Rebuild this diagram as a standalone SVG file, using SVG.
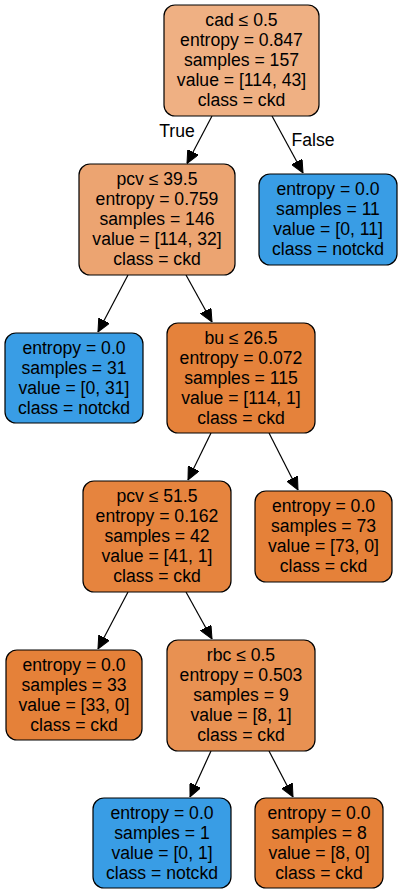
<svg xmlns="http://www.w3.org/2000/svg" width="401" height="895" viewBox="0 0 401 895">
<style>
.n rect{stroke:#000;stroke-width:1.2}
.n text{font-family:"Liberation Sans",Arial,sans-serif;font-size:17.6px;text-anchor:middle;fill:#000}
.e path{stroke:#000;stroke-width:1.2;fill:none;marker-end:url(#ah)}
.lbl{font-family:"Liberation Sans",Arial,sans-serif;font-size:17.6px;text-anchor:middle;fill:#000}
</style>
<defs>
<marker id="ah" viewBox="0 0 13 12" refX="13" refY="6" markerWidth="13" markerHeight="12" markerUnits="userSpaceOnUse" orient="auto">
<path d="M0,0 L13,6 L0,12 z" fill="#000" stroke="#000" stroke-width="1"/>
</marker>
</defs>
<rect width="401" height="895" fill="#fff"/>
<g id="edges" class="e">
<path d="M212,116 L187,163.5"/>
<path d="M272,116 L303,173"/>
<path d="M128,275 L98,332"/>
<path d="M186,275 L212,322"/>
<path d="M211,433 L188,480"/>
<path d="M269,433 L298,490"/>
<path d="M128,592 L98,649"/>
<path d="M186,592 L212,639"/>
<path d="M211,751 L190,797"/>
<path d="M269,751 L293,797"/>
</g>
<text class="lbl" x="177" y="136.5">True</text>
<text class="lbl" x="313" y="146">False</text>
<g id="node0" class="n">
<rect x="164" y="5" width="155" height="111" rx="11" fill="#efb083"/>
<text x="241.5" y="26">cad ≤ 0.5</text>
<text x="241.5" y="46">entropy = 0.847</text>
<text x="241.5" y="66">samples = 157</text>
<text x="241.5" y="86">value = [114, 43]</text>
<text x="241.5" y="106">class = ckd</text>
</g>
<g id="node1" class="n">
<rect x="79" y="164" width="156" height="111" rx="11" fill="#eca471"/>
<text x="157" y="185">pcv ≤ 39.5</text>
<text x="157" y="205">entropy = 0.759</text>
<text x="157" y="225">samples = 146</text>
<text x="157" y="245">value = [114, 32]</text>
<text x="157" y="265">class = ckd</text>
</g>
<g id="node2" class="n">
<rect x="5" y="333" width="138" height="90" rx="11" fill="#399de5"/>
<text x="74" y="353.5">entropy = 0.0</text>
<text x="74" y="373.5">samples = 31</text>
<text x="74" y="393.5">value = [0, 31]</text>
<text x="74" y="413.5">class = notckd</text>
</g>
<g id="node3" class="n">
<rect x="167" y="323" width="148" height="110" rx="11" fill="#e5823b"/>
<text x="241" y="343.5">bu ≤ 26.5</text>
<text x="241" y="363.5">entropy = 0.072</text>
<text x="241" y="383.5">samples = 115</text>
<text x="241" y="403.5">value = [114, 1]</text>
<text x="241" y="423.5">class = ckd</text>
</g>
<g id="node4" class="n">
<rect x="83" y="481" width="148" height="111" rx="11" fill="#e6843e"/>
<text x="157" y="502">pcv ≤ 51.5</text>
<text x="157" y="522">entropy = 0.162</text>
<text x="157" y="542">samples = 42</text>
<text x="157" y="562">value = [41, 1]</text>
<text x="157" y="582">class = ckd</text>
</g>
<g id="node5" class="n">
<rect x="6" y="650" width="136" height="90" rx="11" fill="#e58139"/>
<text x="74" y="670.5">entropy = 0.0</text>
<text x="74" y="690.5">samples = 33</text>
<text x="74" y="710.5">value = [33, 0]</text>
<text x="74" y="730.5">class = ckd</text>
</g>
<g id="node6" class="n">
<rect x="167" y="640" width="148" height="111" rx="11" fill="#e89152"/>
<text x="241" y="661">rbc ≤ 0.5</text>
<text x="241" y="681">entropy = 0.503</text>
<text x="241" y="701">samples = 9</text>
<text x="241" y="721">value = [8, 1]</text>
<text x="241" y="741">class = ckd</text>
</g>
<g id="node7" class="n">
<rect x="93" y="798" width="138" height="90" rx="11" fill="#399de5"/>
<text x="162" y="818.5">entropy = 0.0</text>
<text x="162" y="838.5">samples = 1</text>
<text x="162" y="858.5">value = [0, 1]</text>
<text x="162" y="878.5">class = notckd</text>
</g>
<g id="node8" class="n">
<rect x="255" y="798" width="128" height="90" rx="11" fill="#e58139"/>
<text x="319" y="818.5">entropy = 0.0</text>
<text x="319" y="838.5">samples = 8</text>
<text x="319" y="858.5">value = [8, 0]</text>
<text x="319" y="878.5">class = ckd</text>
</g>
<g id="node9" class="n">
<rect x="255" y="491" width="137" height="91" rx="11" fill="#e58139"/>
<text x="323.5" y="511.5">entropy = 0.0</text>
<text x="323.5" y="531.5">samples = 73</text>
<text x="323.5" y="551.5">value = [73, 0]</text>
<text x="323.5" y="571.5">class = ckd</text>
</g>
<g id="node10" class="n">
<rect x="259" y="174" width="138" height="91" rx="11" fill="#399de5"/>
<text x="328" y="194.5">entropy = 0.0</text>
<text x="328" y="214.5">samples = 11</text>
<text x="328" y="234.5">value = [0, 11]</text>
<text x="328" y="254.5">class = notckd</text>
</g>
</svg>
